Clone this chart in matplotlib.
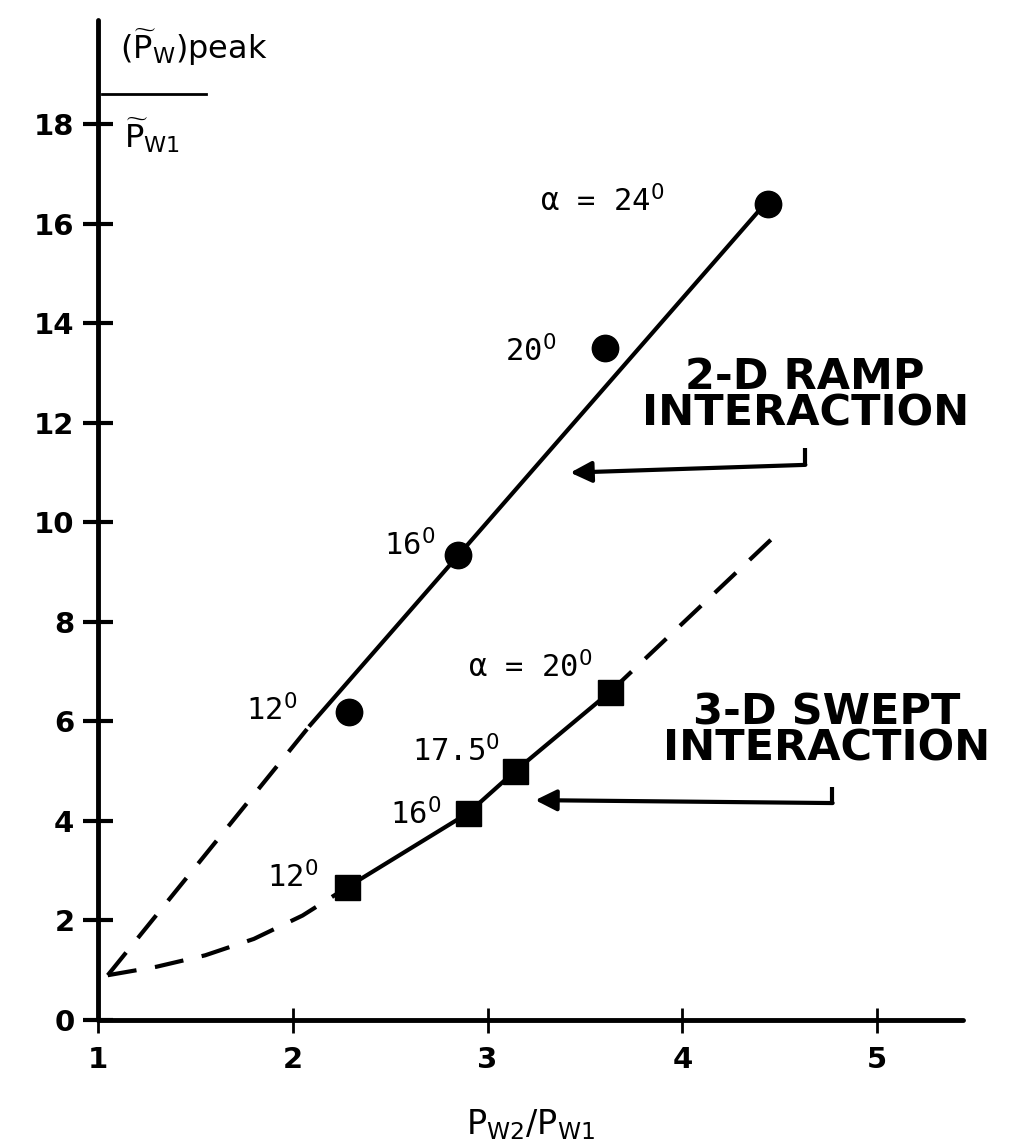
import matplotlib.pyplot as plt

# 2-D ramp interaction (circles)
ramp_x = [2.29, 2.85, 3.60, 4.44]
ramp_y = [6.2, 9.35, 13.5, 16.4]
ramp_labels = ['12$^{0}$', '16$^{0}$', '20$^{0}$', 'α = 24$^{0}$']

# 3-D swept interaction (squares)
swept_x = [2.28, 2.90, 3.14, 3.63]
swept_y = [2.67, 4.16, 5.0, 6.6]
swept_labels = ['12$^{0}$', '16$^{0}$', '17.5$^{0}$', 'α = 20$^{0}$']

# faired curves through the data
ramp_fit_x = [2.09, 4.40]
ramp_fit_y = [5.93, 16.3]
ramp_dash_x = [1.05, 2.09]
ramp_dash_y = [0.9, 5.93]
swept_dash_lo_x = [1.05, 1.3, 1.55, 1.8, 2.05, 2.28]
swept_dash_lo_y = [0.9, 1.07, 1.3, 1.63, 2.1, 2.67]
swept_dash_hi_x = [3.63, 4.48]
swept_dash_hi_y = [6.6, 9.75]

xticks = [1, 2, 3, 4, 5]
yticks = [0, 2, 4, 6, 8, 10, 12, 14, 16, 18]

mono = ['DejaVu Sans Mono', 'DejaVu Sans']

fig = plt.figure(figsize=(10.11, 11.47), dpi=100)
ax = fig.add_axes([98/1011, 127/1147, 865/1011, 1000/1147])

dash = (7, 4.5)
ax.plot(ramp_fit_x, ramp_fit_y, color='black', lw=3)
ax.plot(ramp_dash_x, ramp_dash_y, color='black', lw=3, dashes=dash)
ax.plot(swept_x, swept_y, color='black', lw=3)
ax.plot(swept_dash_lo_x, swept_dash_lo_y, color='black', lw=3, dashes=dash)
ax.plot(swept_dash_hi_x, swept_dash_hi_y, color='black', lw=3, dashes=dash)

ax.plot(ramp_x, ramp_y, 'o', color='black', ms=19)
ax.plot(swept_x, swept_y, 's', color='black', ms=18)

# angle labels
ramp_lab_pos = [(1.76, 6.23), (2.47, 9.55), (3.09, 13.45), (3.27, 16.45)]
for lab, (x, y) in zip(ramp_labels, ramp_lab_pos):
    ax.text(x, y, lab, fontsize=22, family=mono, ha='left', va='center')
swept_lab_pos = [(1.87, 2.87), (2.50, 4.14), (2.61, 5.41), (2.90, 7.1)]
for lab, (x, y) in zip(swept_labels, swept_lab_pos):
    ax.text(x, y, lab, fontsize=22, family=mono, ha='left', va='center')

# curve names
big = dict(fontsize=31, fontweight='heavy', ha='center', va='center',
           multialignment='center', linespacing=0.82, clip_on=False)
ax.text(4.63, 12.56, '2-D RAMP\nINTERACTION', **big)
ax.text(4.74, 5.81, '3-D SWEPT\nINTERACTION', **big)

# pointer arrows
ax.plot([4.63, 4.63], [11.5, 11.16], color='black', lw=3, solid_capstyle='butt')
ax.annotate('', xy=(3.41, 11.0), xytext=(4.645, 11.16),
            arrowprops=dict(arrowstyle='-|>', lw=3, color='black', mutation_scale=32))
ax.plot([4.77, 4.77], [4.68, 4.36], color='black', lw=3, solid_capstyle='butt')
ax.annotate('', xy=(3.23, 4.42), xytext=(4.785, 4.36),
            arrowprops=dict(arrowstyle='-|>', lw=3, color='black', mutation_scale=32))

ax.set_xlim(1, 5.44)
ax.set_ylim(0, 20.1)
ax.set_xticks(xticks)
ax.set_yticks(yticks)
ax.set_xticklabels([str(t) for t in xticks], fontsize=21, fontweight='heavy')
ax.set_yticklabels([str(t) for t in yticks], fontsize=21, fontweight='heavy')
ax.tick_params(axis='y', direction='inout', length=22, width=3, pad=6)
ax.tick_params(axis='x', direction='inout', length=18, width=2, pad=10)

for s in ['top', 'right']:
    ax.spines[s].set_visible(False)
for s in ['left', 'bottom']:
    ax.spines[s].set_linewidth(3.5)
    ax.spines[s].set_capstyle('round')

ax.set_xlabel(r'$\mathrm{P}_{\mathrm{W}2}/\mathrm{P}_{\mathrm{W}1}$', fontsize=24, labelpad=24)

# y label as a fraction
ax.text(0.111, 0.973, r'$(\widetilde{\mathrm{P}}_{\mathrm{W}})\mathrm{peak}$', fontsize=23,
        transform=ax.transAxes, ha='center', va='center')
ax.plot([0.005, 0.125], [0.926, 0.926], color='black', lw=2, transform=ax.transAxes, clip_on=False)
ax.text(0.062, 0.885, r'$\widetilde{\mathrm{P}}_{\mathrm{W}1}$', fontsize=23,
        transform=ax.transAxes, ha='center', va='center')

fig.savefig('out.png', dpi=100)
